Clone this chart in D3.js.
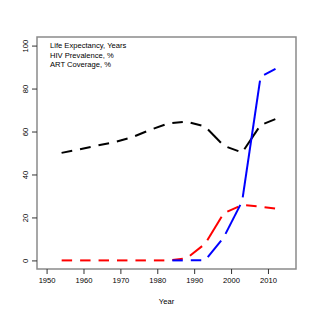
<!DOCTYPE html>
<html>
<head>
<meta charset="utf-8">
<script src="https://cdn.jsdelivr.net/npm/d3@7"></script>
<style>
  body { margin: 0; background: #fff; }
  text { font-family: "Liberation Sans", Arial, sans-serif; font-size: 7.6px; fill: #000; }
</style>
</head>
<body>
<div id="chart"></div>
<script>
// Data (5-year steps)
const years = [1953, 1958, 1963, 1968, 1973, 1978, 1983, 1988, 1993, 1998, 2003, 2008, 2013];
const lifeExp = [49.7, 51.4, 53.2, 54.9, 57.2, 60.7, 63.8, 64.6, 62.3, 53.4, 50.2, 63.0, 66.5];
const hivPrev = [0, 0, 0, 0, 0, 0, 0, 1.0, 7.8, 21.9, 25.8, 25.0, 24.0];
const artCov = [null, null, null, null, null, null, 0, 0, 0.1, 10.7, 27.5, 85.5, 90.0];
const legendLabels = ["Life Expectancy, Years", "HIV Prevalence, %", "ART Coverage, %"];
const xTicks = [1950, 1960, 1970, 1980, 1990, 2000, 2010];
const yTicks = [0, 20, 40, 60, 80, 100];

const width = 315, height = 315;
const margin = { top: 37, right: 19, bottom: 46, left: 37 };

const svg = d3.select("#chart")
    .append("svg")
    .attr("width", width)
    .attr("height", height);

const x = d3.scaleLinear().domain([1947.4, 2017.6]).range([margin.left, width - margin.right]);
const y = d3.scaleLinear().domain([-4, 104]).range([height - margin.bottom, margin.top]);

// series lines, drawn R "type = c" style (gaps round each point)
const series = [
    { values: lifeExp, color: "#000000" },
    { values: hivPrev, color: "#ff0000" },
    { values: artCov, color: "#0000ff" }
];
const gap = 4;

series.forEach(s => {
    const pts = years.map((yr, i) => ({ yr, v: s.values[i] })).filter(d => d.v !== null);
    const segs = [];
    for (let i = 0; i < pts.length - 1; i++) {
        const x1 = x(pts[i].yr), y1 = y(pts[i].v);
        const x2 = x(pts[i + 1].yr), y2 = y(pts[i + 1].v);
        const len = Math.hypot(x2 - x1, y2 - y1);
        const ux = (x2 - x1) / len, uy = (y2 - y1) / len;
        segs.push([x1 + ux * gap, y1 + uy * gap, x2 - ux * gap, y2 - uy * gap]);
    }
    svg.append("g").selectAll("line")
        .data(segs)
        .enter()
        .append("line")
        .attr("x1", d => d[0]).attr("y1", d => d[1])
        .attr("x2", d => d[2]).attr("y2", d => d[3])
        .attr("stroke", s.color)
        .attr("stroke-width", 2);
});

// box
svg.append("rect")
    .attr("x", margin.left)
    .attr("y", margin.top)
    .attr("width", width - margin.left - margin.right)
    .attr("height", height - margin.top - margin.bottom)
    .attr("fill", "none")
    .attr("stroke", "#8a8a8a")
    .attr("stroke-width", 1.5);

// x axis
const xAxis = d3.axisBottom(x).tickValues(xTicks).tickFormat(d3.format("d")).tickSize(5).tickPadding(4);
const gx = svg.append("g")
    .attr("transform", `translate(0, ${height - margin.bottom})`)
    .call(xAxis);
gx.select(".domain").remove();
gx.selectAll(".tick line").attr("stroke", "#333");
gx.selectAll("text").style("font-size", "7.6px").attr("fill", "#222");

// y axis
const yAxis = d3.axisLeft(y).tickValues(yTicks).tickSize(5).tickFormat(d3.format("d"));
const gy = svg.append("g")
    .attr("transform", `translate(${margin.left}, 0)`)
    .call(yAxis);
gy.select(".domain").remove();
gy.selectAll(".tick line").attr("stroke", "#333");
gy.selectAll("text")
    .attr("x", null).attr("dy", null)
    .attr("text-anchor", "middle")
    .attr("fill", "#222")
    .style("font-size", "7.6px")
    .attr("transform", "translate(-11.5, 0) rotate(-90)")
    .attr("dy", "0.35em");

// axis title
svg.append("text")
    .attr("x", (margin.left + width - margin.right) / 2)
    .attr("y", 301)
    .attr("dy", "0.35em")
    .attr("text-anchor", "middle")
    .text("Year");

// legend (text only)
svg.append("g").selectAll("text")
    .data(legendLabels)
    .enter()
    .append("text")
    .attr("x", 50)
    .attr("y", (d, i) => 45.7 + i * 9.2)
    .attr("dy", "0.35em")
    .text(d => d);
</script>
</body>
</html>
